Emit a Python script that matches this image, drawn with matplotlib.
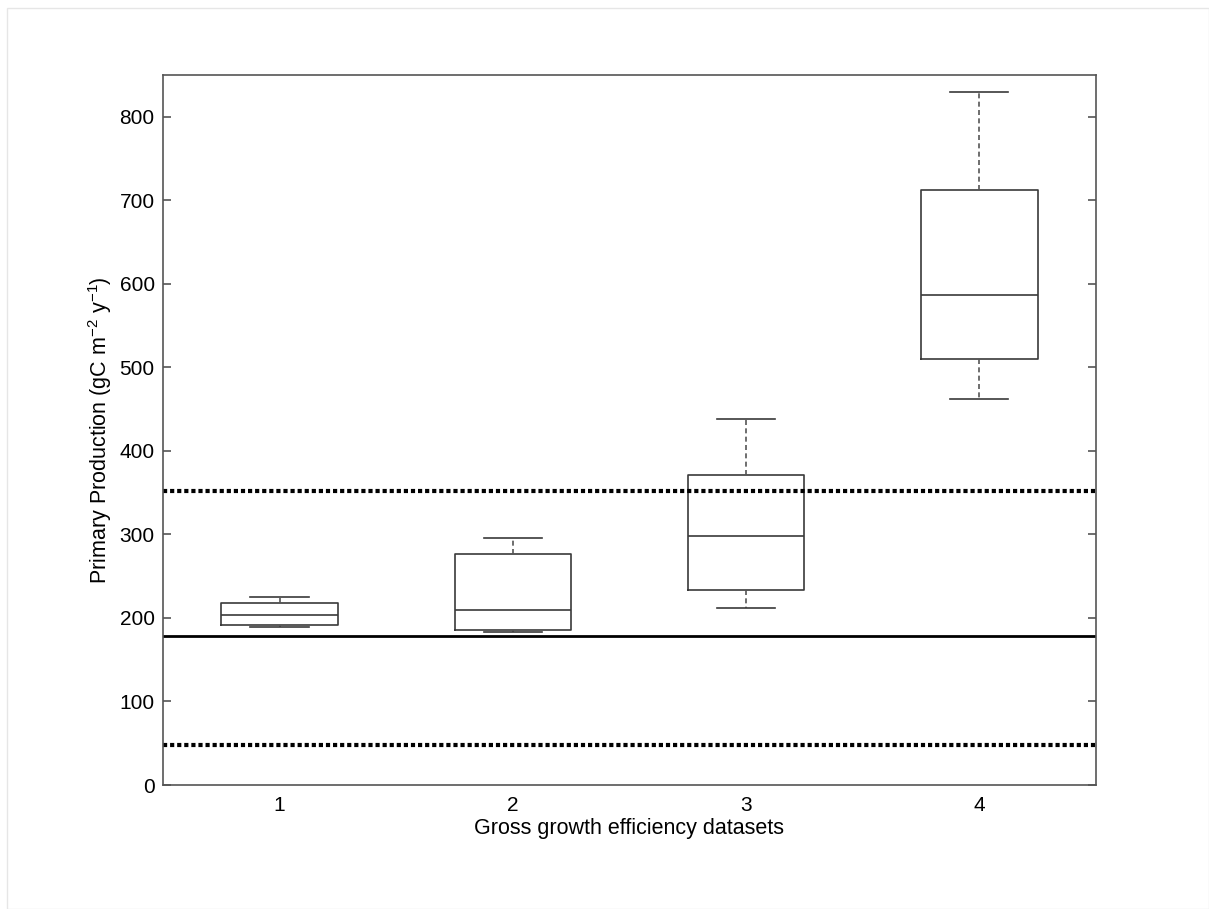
import matplotlib
matplotlib.use("Agg")
from matplotlib import pyplot as plt
from matplotlib.patches import Rectangle

# box statistics (gC m-2 y-1)
datasets = [1, 2, 3, 4]
whislo = [189, 183, 212, 462]
q1 = [191, 185, 233, 510]
med = [203, 210, 298, 587]
q3 = [218, 277, 371, 712]
whishi = [225, 296, 438, 830]

# reference levels
mean_pp = 178
bounds_pp = [48, 352]

plt.rcParams['font.family'] = ['Liberation Sans', 'DejaVu Sans']

fig = plt.figure(figsize=(12.09, 9.09), dpi=100)
fig.patches.append(Rectangle((0.006, 0.0), 0.994, 0.991, transform=fig.transFigure,
                             fill=False, edgecolor='#e6e6e6', linewidth=1))
ax = fig.add_axes([0.1348, 0.1364, 0.7717, 0.7811])

stats = []
for i in range(len(datasets)):
    stats.append({'whislo': whislo[i], 'q1': q1[i], 'med': med[i],
                  'q3': q3[i], 'whishi': whishi[i], 'fliers': []})

line_col = '#3a3a3a'
ax.bxp(stats, positions=datasets, widths=0.5, showfliers=False,
       boxprops=dict(color=line_col, linewidth=1.2),
       medianprops=dict(color=line_col, linewidth=1.2),
       whiskerprops=dict(color='#555555', linewidth=1.2, linestyle=(0, (3, 2))),
       capprops=dict(color=line_col, linewidth=1.2), capwidths=0.25)

ax.axhline(mean_pp, color='black', linewidth=2)
for b in bounds_pp:
    ax.axhline(b, color='black', linewidth=3, linestyle=(0, (1, 0.7)))

ax.set_xlim(0.5, 4.5)
ax.set_ylim(0, 850)
ax.set_yticks(range(0, 801, 100))
ax.set_xticks(datasets)
ax.set_xticklabels([str(d) for d in datasets])
ax.tick_params(axis='y', direction='in', length=6, width=1.2, color='#555555',
               right=True, labelsize=15, pad=6)
ax.tick_params(axis='x', length=0, labelsize=15, pad=8)
for s in ax.spines.values():
    s.set_color('#555555')
    s.set_linewidth(1.2)

ax.set_xlabel('Gross growth efficiency datasets', fontsize=15.5, labelpad=2)
ax.set_ylabel(r'Primary Production (gC m$^{\mathregular{-2}}$ y$^{\mathregular{-1}}$)',
              fontsize=15.5, labelpad=4)

fig.savefig('out.png', dpi=100)
